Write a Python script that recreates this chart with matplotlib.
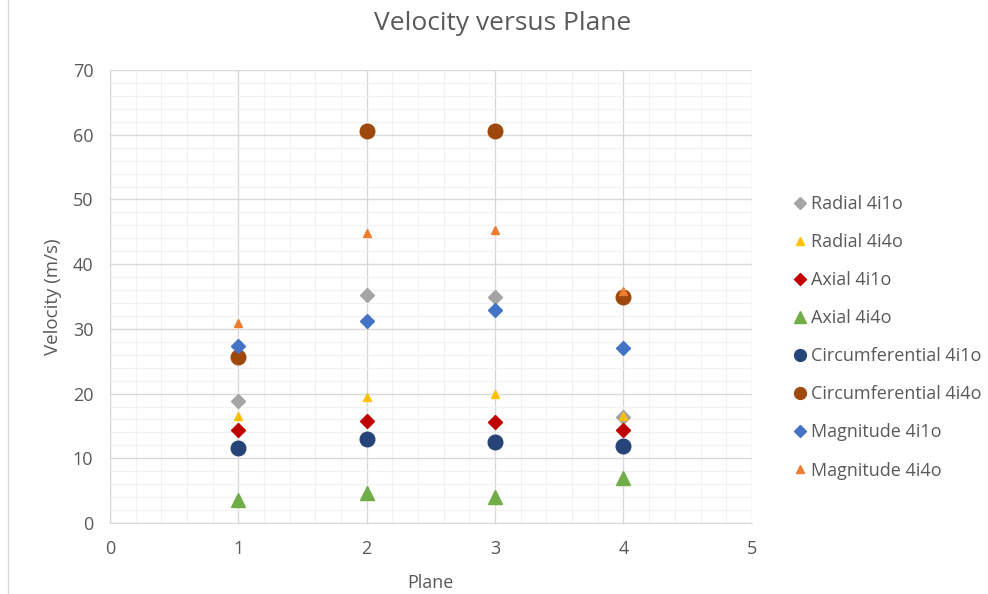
import matplotlib.pyplot as plt
from matplotlib.ticker import MultipleLocator
from matplotlib.lines import Line2D

plt.rcParams['font.family'] = ['Open Sans', 'DejaVu Sans']

planes = [1, 2, 3, 4]

radial_4i1o = [18.9, 35.2, 34.9, 16.4]
radial_4i4o = [16.5, 19.5, 19.9, 16.5]
axial_4i1o = [14.4, 15.8, 15.6, 14.4]
axial_4i4o = [3.6, 4.6, 4.0, 7.0]
circ_4i1o = [11.6, 13.0, 12.5, 11.9]
circ_4i4o = [25.7, 60.6, 60.6, 34.9]
mag_4i1o = [27.4, 31.2, 32.9, 27.0]
mag_4i4o = [30.9, 44.8, 45.3, 35.8]

# label, values, colour, marker, size in plot, size in legend
series = [
    ('Radial 4i1o', radial_4i1o, '#A5A5A5', 'D', 7.5, 6.5),
    ('Radial 4i4o', radial_4i4o, '#FFC000', '^', 6, 6),
    ('Axial 4i1o', axial_4i1o, '#C00000', 'D', 7.5, 6.5),
    ('Axial 4i4o', axial_4i4o, '#70AD47', '^', 10, 8.5),
    ('Circumferential 4i1o', circ_4i1o, '#264478', 'o', 10.5, 8.5),
    ('Circumferential 4i4o', circ_4i4o, '#9E480E', 'o', 10.5, 8.5),
    ('Magnitude 4i1o', mag_4i1o, '#4472C4', 'D', 7.5, 6.5),
    ('Magnitude 4i4o', mag_4i4o, '#ED7D31', '^', 6, 6),
]

fig = plt.figure(figsize=(9.88, 5.94), dpi=100)
ax = fig.add_axes([0.1113, 0.1195, 0.6497, 0.7625])

for label, vals, color, marker, size, _ in series:
    ax.plot(planes, vals, linestyle='none', marker=marker, markersize=size,
            color=color, label=label)

ax.set_xlim(0, 5)
ax.set_ylim(0, 70)
ax.xaxis.set_major_locator(MultipleLocator(1))
ax.xaxis.set_minor_locator(MultipleLocator(0.2))
ax.yaxis.set_major_locator(MultipleLocator(10))
ax.yaxis.set_minor_locator(MultipleLocator(2))
ax.grid(True, which='major', color='#D9D9D9', linewidth=1)
ax.grid(True, which='minor', color='#F2F2F2', linewidth=0.8)
ax.set_axisbelow(True)
for s in ax.spines.values():
    s.set_visible(False)
ax.spines['bottom'].set_visible(True)
ax.spines['bottom'].set_color('#D9D9D9')
ax.spines['left'].set_visible(True)
ax.spines['left'].set_color('#D9D9D9')
ax.tick_params(which='both', length=0, colors='#595959', labelsize=13)
ax.tick_params(axis='x', pad=12)
ax.tick_params(axis='y', pad=12)

fig.text(503 / 988, 1 - 24 / 594, 'Velocity versus Plane', fontsize=19,
         color='#595959', ha='center', va='center')
ax.set_xlabel('Plane', fontsize=13, color='#595959', labelpad=12)
ax.set_ylabel('Velocity (m/s)', fontsize=13.5, color='#595959', labelpad=8)

handles = [Line2D([], [], linestyle='none', marker=m, color=c, markersize=ls)
           for _, _, c, m, _, ls in series]
labels = [s[0] for s in series]
leg = fig.legend(handles, labels, loc='upper left', bbox_to_anchor=(0.794, 0.6835),
                 frameon=False, fontsize=13, labelspacing=1.11, handletextpad=0.15,
                 handlelength=0.9, borderaxespad=0)
for t in leg.get_texts():
    t.set_color('#595959')

fig.add_artist(Line2D([0.008, 0.008], [0.0, 1.0], color='#D9D9D9', linewidth=1))

plt.savefig('out.png', dpi=100)
